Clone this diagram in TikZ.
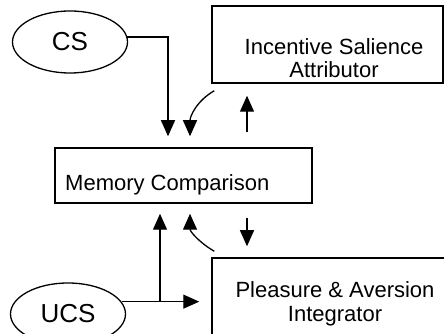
\documentclass[tikz,border=0pt]{standalone}
\usepackage{fontspec}
\setmainfont{Liberation Sans}
\usetikzlibrary{arrows.meta,shapes.geometric}

\begin{document}
\begin{tikzpicture}[x=1pt,y=1pt,
  stim/.style={draw,ellipse,line width=1.3pt,minimum width=115pt,minimum height=62pt,inner sep=0pt,font=\fontsize{26}{28}\selectfont},
  unit/.style={draw,rectangle,line width=1.5pt,inner sep=0pt},
  txt/.style={align=center,inner sep=0pt,font=\fontsize{22}{23.5}\selectfont},
  arr/.style={-{Triangle[width=14pt,length=16pt]},line width=1.3pt}]
 \useasboundingbox (0,0) rectangle (444,334);
 \clip (0,0) rectangle (444,334);
 % stimuli
 \node[stim] (CS) at (70,292) {CS};
 \node[stim] (UCS) at (68,20) {UCS};
 % boxes
 \node[unit,minimum width=231pt,minimum height=77pt] (ISA) at (327.5,289.5) {};
 \node[unit,minimum width=257pt,minimum height=55pt] (MC) at (183.5,158.5) {};
 \node[unit,minimum width=234pt,minimum height=78pt] (PAI) at (329,37) {};
 \node[txt] (ISAtxt) at (334,276) {Incentive Salience\\Attributor};
 \node[txt,anchor=west] (MCtxt) at (65,149) {Memory Comparison};
 \node[txt] (PAItxt) at (335,30) {Pleasure \& Aversion\\Integrator};
 % upper arrows
 \draw[arr] (CS.5) -| ([xshift=-15.5pt,yshift=11pt]MC.north);
 \draw[arr] ([xshift=3pt,yshift=-7pt]ISA.south west) to[out=210,in=90] ([xshift=6.5pt,yshift=11pt]MC.north);
 \draw[arr] ([xshift=63.5pt,yshift=15pt]MC.north) -- ([xshift=-80.5pt,yshift=-12pt]ISA.south);
 % lower arrows
 \draw[arr] ([xshift=3pt,yshift=6pt]PAI.north west) to[out=150,in=270] ([xshift=6.5pt,yshift=-10pt]MC.south);
 \draw[arr] ([xshift=63.5pt,yshift=-14pt]MC.south) -- ([xshift=-82pt,yshift=11pt]PAI.north);
 \draw[arr,shorten >=12pt] (UCS.13) -- (UCS.13 -| PAI.west);
 \draw[arr] ([xshift=-23.5pt]MC.south |- UCS.13) -- ([xshift=-23.5pt,yshift=-10pt]MC.south);
\end{tikzpicture}
\end{document}
